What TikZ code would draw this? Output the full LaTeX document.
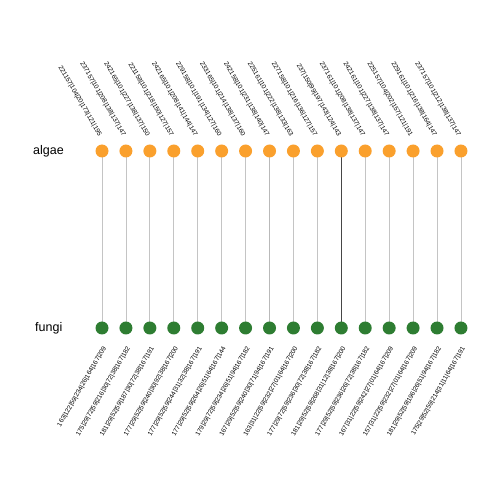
\documentclass[tikz,border=0pt]{standalone}
\usepackage{fontspec}
\setmainfont{Liberation Sans}
\usepackage{xcolor}
\usetikzlibrary{positioning}
\definecolor{algaeorange}{RGB}{250,160,45}
\definecolor{fungigreen}{RGB}{46,125,50}
\definecolor{lightline}{RGB}{196,196,196}
\definecolor{midline}{RGB}{185,185,185}
\definecolor{darkline}{RGB}{70,70,70}

\begin{document}
\begin{tikzpicture}[x=1pt, y=1pt,
    dot/.style={circle, inner sep=0pt, minimum size=13pt},
    toplab/.style={font=\fontsize{6.5}{7}\selectfont, anchor=east, rotate=-60, inner sep=0pt},
    botlab/.style={font=\fontsize{6.5}{7}\selectfont, anchor=east, rotate=60, inner sep=0pt},
    rowlab/.style={font=\fontsize{12.5}{14}\selectfont, anchor=west, inner sep=0pt}]
    \useasboundingbox (0,0) rectangle (480,480);

    \node[rowlab] (algae) at (33,329) {algae};
    \node[rowlab] (fungi) at (35,152) {fungi};

    \foreach \i/\tl/\bl/\lc/\lw in {
        1/221157|104|20|173|121|195/163|122|59|234|26|164|167|209/lightline/0.8,
        2/237157|101|208|138|137|147/175|29|72|59|216|30|72|38|167|182/lightline/0.8,
        3/242165|101|227|138|137|150/181|29|52|59|187|30|72|38|167|191/lightline/0.8,
        4/221158|101|218|150|127|157/177|29|52|59|240|30|92|38|167|200/lightline/0.8,
        5/242165|101|208|141|144|147/177|29|52|59|244|31|32|38|167|191/lightline/0.8,
        6/229158|101|191|134|127|160/177|29|52|59|264|26|51|64|167|144/lightline/0.8,
        7/233165|101|214|138|137|160/179|29|72|59|234|26|51|94|167|182/lightline/0.8,
        8/242158|101|231|138|140|147/167|29|52|59|240|30|71|94|167|191/midline/1.4,
        9/225161|101|222|138|133|163/163|31|22|59|232|27|01|64|167|200/lightline/0.8,
        10/227158|101|216|136|127|157/177|29|72|59|236|30|72|38|167|182/lightline/0.8,
        11/237|150|99|197|143|124|143/181|29|52|59|268|31|12|38|167|200/darkline/0.9,
        12/237161|101|208|138|137|147/177|29|52|59|236|26|72|38|167|182/lightline/0.8,
        13/242161|101|227|138|137|147/167|31|22|59|242|27|01|64|167|209/lightline/0.8,
        14/225157|104|202|157|121|191/157|31|22|59|232|27|01|64|167|209/lightline/0.8,
        15/229161|101|216|138|164|147/181|29|52|59|196|26|51|94|167|182/lightline/0.8,
        16/237157|101|212|138|137|147/175|29|52|59|214|31|11|64|167|191/lightline/0.8}{
        \pgfmathsetmacro{\xx}{102+23.93*(\i-1)}
        \draw[draw=\lc, line width=\lw pt] (\xx,329) -- (\xx,152);
        \node[dot, fill=algaeorange] (a\i) at (\xx,329) {};
        \node[dot, fill=fungigreen] (f\i) at (\xx,152) {};
        \node[toplab] (t\i) at (\xx-2,344) {\tl};
        \node[botlab] (b\i) at (\xx+3,133) {\bl};
    }
\end{tikzpicture}
\end{document}
